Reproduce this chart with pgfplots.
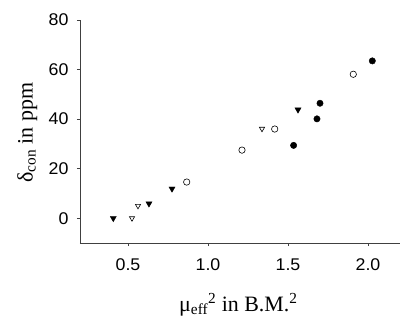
\documentclass[border=0pt]{standalone}
\usepackage{fontspec}
\setmainfont{Liberation Serif}
\newfontfamily\labelfont{Liberation Serif}
\newfontfamily\tickfont[FakeStretch=1.05]{Liberation Sans}
\usepackage{pgfplots}
\pgfplotsset{compat=1.18}
\begin{document}
\begin{tikzpicture}
\begin{axis}[
  scale only axis, width=320bp, height=223bp,
  xmin=0.2, xmax=2.2, ymin=-10, ymax=80,
  axis x line*=bottom, axis y line*=left,
  axis line style={line width=0.9bp, black!75},
  xtick={0.5,1,1.5,2}, ytick={0,20,40,60,80},
  xticklabel style={/pgf/number format/fixed, /pgf/number format/fixed zerofill, /pgf/number format/precision=1},
  tick align=outside, major tick length=3bp,
  tick style={line width=0.9bp, black!75},
  tick label style={font=\tickfont\fontsize{17}{17}\selectfont},
  /pgf/number format/assume math mode=true,
  xticklabel style={yshift=-9bp},
  yticklabel style={xshift=-5bp},
  clip=false,
  xlabel={\labelfont\fontsize{22}{22}\selectfont μ\textsubscript{eff}\textsuperscript{2} in B.M.\textsuperscript{2}},
  xlabel style={at={(axis description cs:0.495,-0.305)}, anchor=base},
  ylabel={\labelfont\fontsize{22}{22}\selectfont δ\textsubscript{con} in ppm},
  ylabel style={at={(axis description cs:-0.165,0.495)}, anchor=center, rotate=0},
]
\addplot[only marks, mark=triangle*, mark size=3.5bp, mark options={rotate=180, fill=black, draw=black}]
  coordinates {(0.408,0) (0.631,5.9) (0.775,11.9) (1.5625,43.8)};
\addplot[only marks, mark=triangle, mark size=3bp, mark options={rotate=180, draw=black, line width=0.6bp}]
  coordinates {(0.525,0) (0.5625,5.0) (1.3375,36.1)};
\addplot[only marks, mark=o, mark size=3.2bp, mark options={draw=black, line width=0.6bp}]
  coordinates {(0.867,14.6) (1.2125,27.5) (1.417,36.0) (1.908,58.1)};
\addplot[only marks, mark=*, mark size=3.2bp, mark options={fill=black, draw=black}]
  coordinates {(1.535,29.4) (1.681,40.1) (1.700,46.4) (2.027,63.5)};
\end{axis}
\pgfresetboundingbox
\path[use as bounding box] ([shift={(-80bp,-77bp)}]current axis.south west) rectangle ([shift={(0bp,20bp)}]current axis.north east);
\end{tikzpicture}
\end{document}
